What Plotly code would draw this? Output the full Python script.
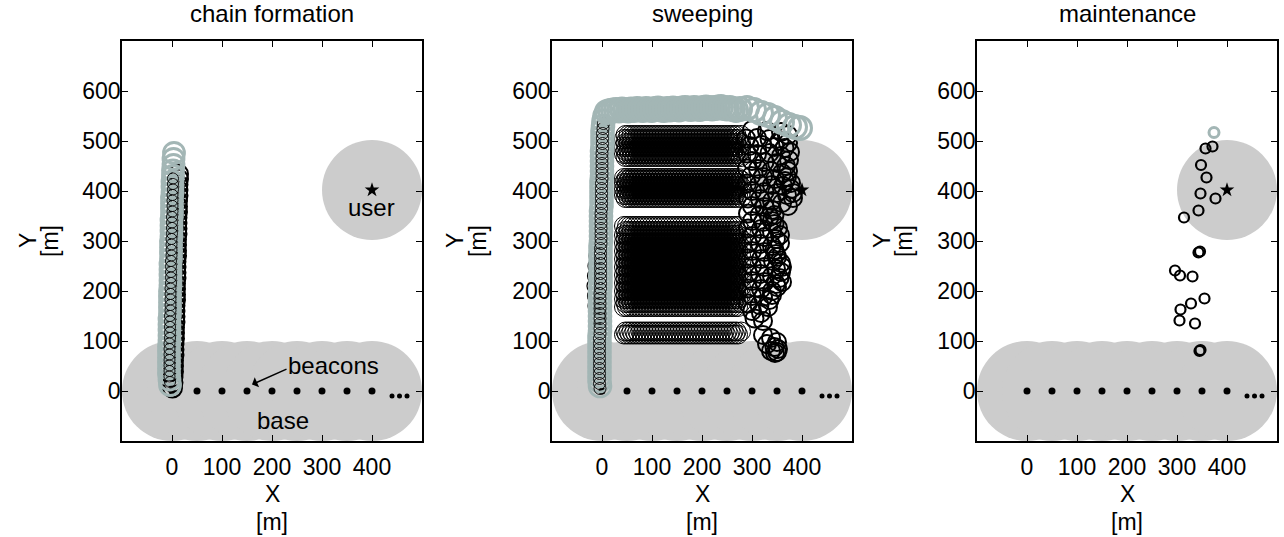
import plotly.graph_objects as go

# ---------------- data ----------------
x_ticks = [0, 100, 200, 300, 400]
y_ticks = [0, 100, 200, 300, 400, 500, 600]
panel_titles = ["chain formation", "sweeping", "maintenance"]

beacon_x = [0, 50, 100, 150, 200, 250, 300, 350, 400]
beacon_y = [0, 0, 0, 0, 0, 0, 0, 0, 0]
more_x = [440, 455, 470]
more_y = [-10, -10, -10]
coverage_r = 100
user_x = [400]
user_y = [402]

# chain formation
cf_grey_y = [12, 23, 34, 45, 56, 67, 78, 89, 100, 111, 122, 133, 144, 155, 166, 177, 188, 199, 210, 221,
             232, 243, 254, 265, 276, 287, 298, 309, 320, 331, 342, 353, 364, 375, 386, 397, 408, 419,
             430, 441, 452, 464, 476]
cf_grey_x = [-4, -5, -6, -6, -6, -6, -6, -6, -5, -5, -5, -5, -5, -4, -4, -4, -4, -4, -3, -3,
             -3, -3, -3, -2, -2, -2, -2, -1, -1, -1, -1, 0, 0, 0, 0, 1, 1, 1,
             2, 2, 3, 3, 4]
cf_black_y = [6, 17, 28, 39, 50, 61, 72, 83, 94, 105, 116, 127, 138, 149, 160, 171, 182, 193, 204, 215,
              226, 237, 248, 259, 270, 281, 292, 303, 314, 325, 336, 347, 358, 369, 380, 391, 402, 413,
              424, 434]
cf_black_x = [1, 2, 2, 3, 3, 3, 4, 4, 4, 5, 5, 5, 6, 6, 6, 6, 7, 7, 7, 7,
              8, 8, 8, 8, 9, 9, 9, 9, 10, 10, 10, 10, 11, 11, 11, 12, 12, 12,
              13, 13]
cf_inner_y = [18, 29, 40, 51, 62, 73, 84, 95, 106, 117, 128, 139, 150, 161, 172, 183, 194, 205, 216, 227,
              238, 249, 260, 271, 282, 293, 304, 315, 326, 337, 348, 359, 370, 381, 392, 403, 414, 425]
cf_inner_x = [-4, -5, -5, -5, -5, -5, -5, -5, -4, -4, -4, -4, -4, -3, -3, -3, -3, -3, -2, -2,
              -2, -2, -2, -1, -1, -1, -1, 0, 0, 0, 0, 1, 1, 1, 1, 2, 2, 2]

# sweeping
sw_grey_col_y = [10, 20, 30, 40, 50, 60, 70, 80, 90, 100, 110, 120, 130, 140, 150, 160, 170, 180, 190, 200,
                 210, 220, 230, 240, 250, 260, 270, 280, 290, 300, 310, 320, 330, 340, 350, 360, 370, 380,
                 390, 400, 410, 420, 430, 440, 450, 460, 470, 480, 490, 500, 510, 520, 530, 540, 550]
sw_grey_col_x = [-4, -5, -5, -5, -5, -5, -5, -5, -5, -5, -5, -4, -4, -4, -4, -4, -4, -4, -4, -4,
                 -3, -3, -3, -3, -3, -3, -3, -3, -3, -2, -2, -2, -2, -2, -2, -2, -1, -1,
                 -1, -1, -1, -1, 0, 0, 0, 0, 0, 0, 1, 1, 1, 1, 2, 3, 5]
sw_grey_top_x = [10, 16, 22, 28, 34, 40, 46, 52, 58, 64, 70, 76, 82, 88, 94, 100, 106, 112, 118, 124,
                 130, 136, 142, 148, 154, 160, 166, 172, 178, 184, 190, 196, 202, 208, 214, 220, 226, 232,
                 238, 244, 250, 256, 262, 268, 276, 290, 304, 318, 332, 346, 360, 374, 386, 396]
sw_grey_top_y = [558, 560, 561, 562, 561, 563, 562, 561, 563, 562, 564, 563, 562, 564, 563, 562, 564, 565, 563, 562,
                 564, 563, 565, 564, 563, 565, 566, 565, 564, 566, 565, 564, 566, 567, 566, 565, 566, 567,
                 568, 566, 565, 566, 564, 562, 564, 566, 562, 556, 552, 546, 538, 532, 528, 526]
sw_black_col_y = [5, 15, 25, 35, 45, 55, 65, 75, 85, 95, 105, 115, 125, 135, 145, 155, 165, 175, 185, 195,
                  205, 215, 225, 235, 245, 255, 265, 275, 285, 295, 305, 315, 325, 335, 345, 355, 365, 375,
                  385, 395, 405, 415, 425, 435, 445, 455, 465, 475, 485, 495, 505, 515, 525, 535]
sw_black_col_x = [-4, -5, -5, -5, -5, -5, -5, -5, -5, -5, -5, -4, -4, -4, -4, -4, -4, -4, -4, -4,
                  -3, -3, -3, -3, -3, -3, -3, -3, -3, -2, -2, -2, -2, -2, -2, -2, -1, -1,
                  -1, -1, -1, -1, 0, 0, 0, 0, 0, 0, 1, 1, 1, 1, 2, 3]
sw_left_x = [-10, -12, -13, -14, -13, -12, -10]
sw_left_y = [150, 170, 190, 210, 230, 250, 270]
sw_rows_y = [113, 119,
             168, 176, 184, 192, 200, 208, 216, 224, 232, 240, 248, 256, 264, 272, 280, 288, 296, 304,
             312, 320, 330,
             386, 392, 398, 404, 410, 416, 422, 426,
             468, 474, 480, 488, 496, 504, 512]
sw_row_x_a = [44, 50, 56, 62, 68, 74, 80, 86, 92, 98, 104, 110, 116, 122, 128, 134, 140, 146, 152, 158,
              164, 170, 176, 182, 188, 194, 200, 206, 212, 218, 224, 230, 236, 242, 248, 254, 260, 266, 272]
sw_row_x_b = [47, 53, 59, 65, 71, 77, 83, 89, 95, 101, 107, 113, 119, 125, 131, 137, 143, 149, 155, 161,
              167, 173, 179, 185, 191, 197, 203, 209, 215, 221, 227, 233, 239, 245, 251, 257, 263, 269, 278]
sw_right_x = [300, 330, 358, 372,
              288, 310, 335, 355, 372,
              295, 320, 345, 365, 376,
              290, 310, 335, 358, 374,
              300, 325, 350, 368, 372,
              290, 312, 338, 360, 370,
              298, 322, 346, 366, 378,
              290, 315, 340, 362, 378, 382,
              300, 325, 350, 370, 382,
              292, 316, 340, 360, 372,
              300, 325, 340, 345,
              292, 315, 335, 340,
              300, 322, 345, 352,
              292, 318, 340, 356,
              300, 325, 348, 356,
              292, 316, 340, 345,
              300, 325, 348, 350,
              292, 318, 342, 358, 360,
              300, 325, 348, 358,
              292, 316, 340, 355, 360,
              300, 325, 348, 350,
              292, 318, 340, 340,
              300, 322, 335,
              292, 315, 332,
              300, 318,
              305, 322,
              322, 338, 350,
              330, 345, 352,
              338, 350, 346]
sw_right_y = [522, 520, 518, 512,
              505, 506, 504, 500, 496,
              490, 492, 488, 486, 478,
              475, 474, 476, 470, 462,
              460, 458, 456, 450, 440,
              445, 444, 440, 436, 428,
              430, 428, 424, 420, 416,
              415, 414, 412, 410, 404, 396,
              400, 398, 396, 392, 386,
              385, 384, 380, 376, 370,
              370, 368, 362, 352,
              355, 352, 348, 340,
              340, 338, 334, 326,
              325, 324, 318, 312,
              310, 308, 304, 296,
              295, 294, 290, 282,
              280, 278, 274, 268,
              265, 264, 260, 256, 248,
              250, 248, 244, 238,
              235, 234, 230, 226, 218,
              220, 218, 214, 208,
              205, 204, 200, 192,
              190, 188, 182,
              175, 172, 168,
              160, 156,
              145, 140,
              112, 106, 98,
              94, 88, 84,
              80, 78, 76]

# maintenance
mt_x = [371, 357, 348, 359, 347, 377, 343, 314, 343, 346, 296, 306, 331, 355, 328, 307, 305, 336, 345, 347]
mt_y = [489, 485, 452, 427, 395, 385, 361, 347, 277, 279, 241, 231, 229, 185, 175, 163, 141, 135, 80, 82]
mt_grey_x = [374]
mt_grey_y = [517]

# ---------------- styling ----------------
FONT = "Liberation Sans, Arial, Helvetica, sans-serif"
GREY = "#a3b6b5"
REGION = "#cccccc"
W, H = 1284, 537
doms = [[122 / W, 422 / W], [552 / W, 852 / W], [977 / W, 1277 / W]]
ydom = [1 - 441 / H, 1 - 41 / H]

fig = go.Figure()


def ring(x, y, color, size, lw, xa, ya):
    fig.add_trace(go.Scatter(x=x, y=y, mode="markers", xaxis=xa, yaxis=ya, hoverinfo="skip",
                             marker=dict(symbol="circle-open", size=size, color=color,
                                         line=dict(color=color, width=lw))))


def beacons(xa, ya):
    fig.add_trace(go.Scatter(x=beacon_x, y=beacon_y, mode="markers", xaxis=xa, yaxis=ya,
                             marker=dict(symbol="circle", size=7, color="black")))
    fig.add_trace(go.Scatter(x=more_x, y=more_y, mode="markers", xaxis=xa, yaxis=ya,
                             marker=dict(symbol="circle", size=5, color="black")))


def star(xa, ya):
    fig.add_trace(go.Scatter(x=user_x, y=user_y, mode="markers", xaxis=xa, yaxis=ya,
                             marker=dict(symbol="star", size=11, color="black")))


# panel 1
beacons("x", "y")
ring(cf_black_x, cf_black_y, "black", 19, 2, "x", "y")
ring(cf_grey_x, cf_grey_y, GREY, 21, 2.8, "x", "y")
ring(cf_inner_x, cf_inner_y, "black", 11, 0.9, "x", "y")
star("x", "y")

# panel 2
beacons("x2", "y2")
gx, gy = [], []
for i, yv in enumerate(sw_rows_y):
    xs = sw_row_x_a if i % 2 == 0 else sw_row_x_b
    gx += xs
    gy += [yv] * len(xs)
ring(gx, gy, "black", 19, 1, "x2", "y2")
star("x2", "y2")
ring(sw_right_x, sw_right_y, "black", 18, 2, "x2", "y2")
ring(sw_left_x, sw_left_y, "black", 16, 1.2, "x2", "y2")
ring(sw_grey_col_x, sw_grey_col_y, GREY, 22, 2.6, "x2", "y2")
ring(sw_black_col_x, sw_black_col_y, "black", 12, 0.9, "x2", "y2")
ring(sw_grey_top_x, sw_grey_top_y, GREY, 23, 3, "x2", "y2")

# panel 3
beacons("x3", "y3")
ring(mt_x, mt_y, "black", 10, 2.2, "x3", "y3")
ring(mt_grey_x, mt_grey_y, GREY, 10, 3, "x3", "y3")
star("x3", "y3")

# coverage regions
shapes = []
for k in ["", "2", "3"]:
    for bx, by in zip(beacon_x, beacon_y):
        shapes.append(dict(type="circle", xref="x" + k, yref="y" + k, layer="below",
                           x0=bx - coverage_r, x1=bx + coverage_r, y0=by - coverage_r, y1=by + coverage_r,
                           fillcolor=REGION, line=dict(width=0)))
    shapes.append(dict(type="circle", xref="x" + k, yref="y" + k, layer="below",
                       x0=user_x[0] - coverage_r, x1=user_x[0] + coverage_r,
                       y0=user_y[0] - coverage_r, y1=user_y[0] + coverage_r,
                       fillcolor=REGION, line=dict(width=0)))

axis_common = dict(ticks="inside", ticklen=6, tickwidth=1, tickcolor="black", showline=True,
                   linecolor="black", linewidth=1.5, mirror="ticks", showgrid=False, zeroline=False,
                   tickfont=dict(family=FONT, size=23, color="black"))

layout = dict(width=W, height=H, margin=dict(l=0, r=0, t=0, b=0), showlegend=False,
              paper_bgcolor="white", plot_bgcolor="white", shapes=shapes)
for i, k in enumerate(["", "2", "3"]):
    layout["xaxis" + k] = dict(domain=doms[i], range=[-100, 500], tickvals=x_ticks,
                               anchor="y" + k, ticklabelstandoff=5, **axis_common)
    layout["yaxis" + k] = dict(domain=ydom, range=[-100, 700], tickvals=y_ticks,
                               anchor="x" + k, ticklabelstandoff=-5, **axis_common)

TXT = dict(family=FONT, size=24, color="black")
LBL = dict(family=FONT, size=23, color="black")
ann = []
centers = [272, 702, 1127]
ylab_x = [(28, 50), (455, 478), (882, 904)]
for i in range(3):
    c = centers[i] / W
    ann.append(dict(text=panel_titles[i], x=c, y=1 - 14 / H, xref="paper", yref="paper",
                    xanchor="center", yanchor="middle", showarrow=False, font=TXT))
    ann.append(dict(text="X", x=c, y=1 - 494 / H, xref="paper", yref="paper",
                    xanchor="center", yanchor="middle", showarrow=False, font=LBL))
    ann.append(dict(text="[m]", x=c, y=1 - 522 / H, xref="paper", yref="paper",
                    xanchor="center", yanchor="middle", showarrow=False, font=LBL))
    ann.append(dict(text="Y", x=ylab_x[i][0] / W, y=1 - 241 / H, xref="paper", yref="paper",
                    xanchor="center", yanchor="middle", textangle=-90, showarrow=False, font=LBL))
    ann.append(dict(text="[m]", x=ylab_x[i][1] / W, y=1 - 241 / H, xref="paper", yref="paper",
                    xanchor="center", yanchor="middle", textangle=-90, showarrow=False, font=LBL))

ann.append(dict(text="user", x=398, y=368, xref="x", yref="y", showarrow=False,
                xanchor="center", yanchor="middle", font=TXT))
ann.append(dict(text="beacons", x=323, y=52, xref="x", yref="y", showarrow=False,
                xanchor="center", yanchor="middle", font=TXT))
ann.append(dict(text="base", x=221, y=-58, xref="x", yref="y", showarrow=False,
                xanchor="center", yanchor="middle", font=TXT))
ann.append(dict(text="", x=160, y=13, ax=232, ay=45, xref="x", yref="y", axref="x", ayref="y",
                showarrow=True, arrowhead=1, arrowsize=1.2, arrowwidth=1.5, arrowcolor="black"))
layout["annotations"] = ann

fig.update_layout(**layout)
fig.write_html("out.html", config={"displayModeBar": False},
               post_script="document.body.style.margin='0';document.body.style.overflow='hidden';")
